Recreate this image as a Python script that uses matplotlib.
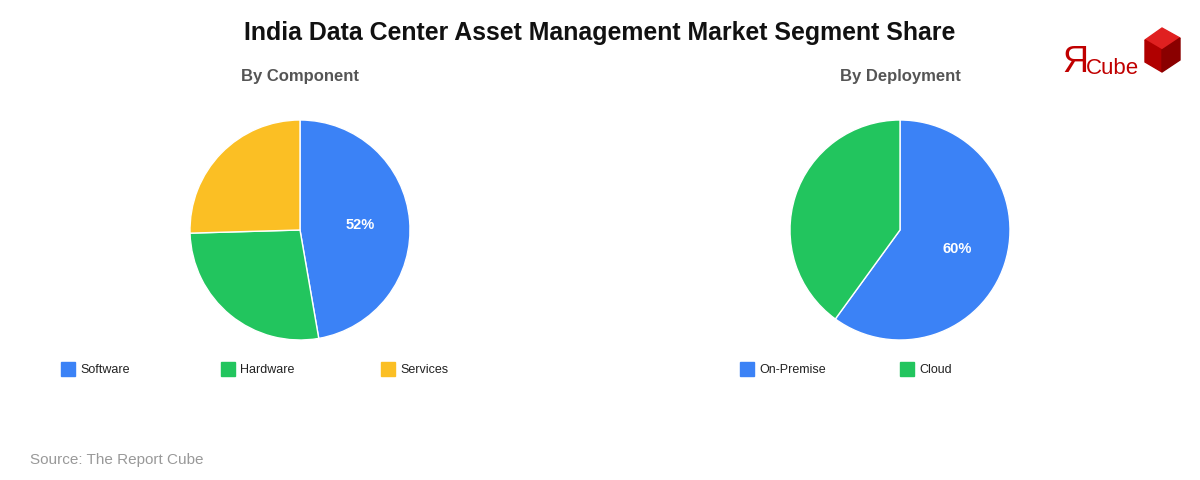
import matplotlib
matplotlib.use("Agg")
import matplotlib.pyplot as plt
from matplotlib.patches import Rectangle, Polygon
import numpy as np

comp_labels = ["Software", "Hardware", "Services"]
comp_values = [52, 30, 28]
dep_labels = ["On-Premise", "Cloud"]
dep_values = [60, 40]
colors_comp = ["#3b82f6", "#22c55e", "#fbbf24"]
colors_dep = ["#3b82f6", "#22c55e"]

plt.rcParams['font.family'] = ['Liberation Sans', 'DejaVu Sans']
W, H = 1200, 480
fig = plt.figure(figsize=(12, 4.8), dpi=100)

def fx(x): return x / W
def fy(y): return 1 - y / H

fig.text(0.5, fy(33), "India Data Center Asset Management Market Segment Share",
         ha="center", va="center", fontsize=17.9, fontweight="bold", color="#111111")

def pie(cx, cy, r, vals, cols, title, labels, legx):
    ax = fig.add_axes([fx(cx - r), fy(cy + r), 2 * r / W, 2 * r / H])
    ax.pie(vals, colors=cols, startangle=90, counterclock=False,
           wedgeprops=dict(edgecolor="white", linewidth=1))
    ax.set_xlim(-1, 1); ax.set_ylim(-1, 1)
    ax.set_aspect("auto")
    tot = sum(vals)
    mid = 90 - 360 * (vals[0] / tot) / 2
    ax.text(0.55 * np.cos(np.radians(mid)), 0.55 * np.sin(np.radians(mid)),
            f"{vals[0]}%", ha="center", va="center", color="white",
            fontsize=10.5, fontweight="bold")
    fig.text(fx(cx), fy(77), title, ha="center", va="center", fontsize=12,
             fontweight="bold", color="#555555")
    for i, (lab, c) in enumerate(zip(labels, cols)):
        x0 = legx + i * 160
        fig.patches.append(Rectangle((fx(x0), fy(376)), 14 / W, 14 / H,
                                     transform=fig.transFigure, color=c))
        fig.text(fx(x0 + 19), fy(370), lab, ha="left", va="center",
                 fontsize=9, color="#222222")

pie(300, 230, 110, comp_values, colors_comp, "By Component", comp_labels, 61)
pie(900, 230, 110, dep_values, colors_dep, "By Deployment", dep_labels, 740)

fig.text(fx(30), fy(460), "Source: The Report Cube", ha="left", va="center",
         fontsize=11, color="#999999")

# logo
fig.text(fx(1062), fy(62), "Я", ha="left", va="center", fontsize=26, color="#c00000")
fig.text(fx(1086), fy(69), "Cube", ha="left", va="center", fontsize=16, color="#c00000")
top = [(1145, 40), (1162, 28), (1180, 38), (1162, 50)]
left = [(1145, 40), (1162, 50), (1162, 72), (1145, 62)]
right = [(1162, 50), (1180, 38), (1180, 60), (1162, 72)]
for pts, c in [(top, "#e02020"), (left, "#b00000"), (right, "#8a0000")]:
    fig.patches.append(Polygon([(fx(a), fy(b)) for a, b in pts], closed=True,
                               transform=fig.transFigure, color=c))

fig.savefig("out.png", dpi=100, facecolor="white")
